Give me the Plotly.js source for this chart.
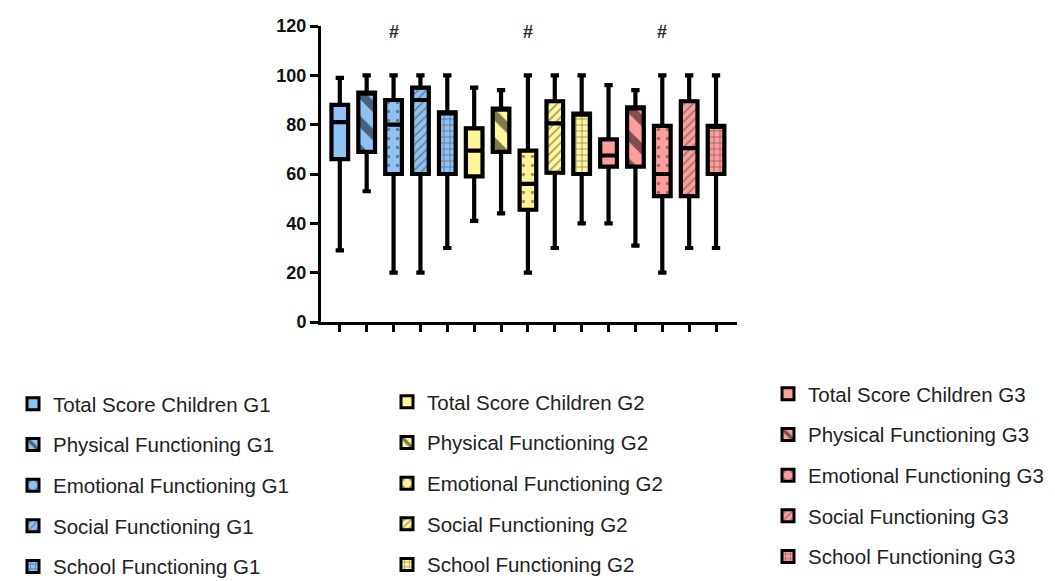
<!DOCTYPE html>
<html>
<head>
<meta charset="utf-8">
<script src="https://cdn.plot.ly/plotly-3.0.1.min.js"></script>
<style>html,body{margin:0;padding:0;background:#fff;}#chart{width:1055px;height:581px;}</style>
</head>
<body>
<div id="chart"></div>
<script>
// ---- data ----
const categories = [
  'Total Score Children G1','Physical Functioning G1','Emotional Functioning G1','Social Functioning G1','School Functioning G1',
  'Total Score Children G2','Physical Functioning G2','Emotional Functioning G2','Social Functioning G2','School Functioning G2',
  'Total Score Children G3','Physical Functioning G3','Emotional Functioning G3','Social Functioning G3','School Functioning G3'
];
const lowerWhisker = [29, 53, 20, 20, 30, 41, 44, 20, 30, 40, 40, 31, 20, 30, 30];
const q1Values     = [66, 69, 60, 60, 60, 59, 69, 45.5, 60.5, 60, 63, 63, 51, 51, 60];
const medianValues = [81, 93, 80, 90, 85, 69.5, 86.5, 56, 80.5, 84.5, 67.5, 87, 60, 70.5, 79.5];
const q3Values     = [88, 93, 90, 95, 85, 78.5, 86.5, 69.5, 89.5, 84.5, 74, 87, 79.5, 89.5, 79.5];
const upperWhisker = [99, 100, 100, 100, 100, 95, 94, 100, 100, 100, 96, 94, 100, 100, 100];
const significantIdx = [2, 7, 12];
const significantLabel = '#';
const yTicks = [0, 20, 40, 60, 80, 100, 120];

// ---- styles ----
const groupColors = ['#8fc1f5', '#fff59b', '#ff9d9d'];
const patterns = [
  {shape: '', size: 8, solidity: 0.3, fgcolor: '#000'},
  {shape: '\\', size: 20, solidity: 0.42, fgcolor: '#000'},
  {shape: '.', size: 9, solidity: 0.12, fgcolor: '#333'},
  {shape: '/', size: 6, solidity: 0.28, fgcolor: '#444'},
  {shape: '+', size: 6, solidity: 0.28, fgcolor: '#333'}
];
const legendNames = ['legend', 'legend2', 'legend3'];

const traces = [];
categories.forEach((name, i) => {
  const g = Math.floor(i / 5), k = i % 5;
  traces.push({
    type: 'bar', x: [i], y: [q3Values[i] - q1Values[i]], base: [q1Values[i]], width: 0.62,
    name: name, legend: legendNames[g], legendgroup: 'g' + i,
    marker: {color: groupColors[g], line: {color: '#000', width: 3},
             pattern: Object.assign({bgcolor: groupColors[g], fillmode: 'overlay'}, patterns[k])},
    hoverinfo: 'name'
  });
});
categories.forEach((name, i) => {
  traces.push({
    type: 'box', x: [i], q1: [q1Values[i]], median: [medianValues[i]], q3: [q3Values[i]],
    lowerfence: [lowerWhisker[i]], upperfence: [upperWhisker[i]], width: 0.62, whiskerwidth: 0.5,
    fillcolor: 'rgba(0,0,0,0)', line: {color: '#000', width: 4.2}, showlegend: false,
    name: name, hoverinfo: 'skip'
  });
});

const legendBase = {
  xref: 'container', yref: 'container', yanchor: 'top', xanchor: 'left',
  font: {family: 'Liberation Sans, Arial, sans-serif', size: 20.5, color: '#222'},
  traceorder: 'grouped', tracegroupgap: 11, bgcolor: 'rgba(0,0,0,0)', itemclick: false
};

const layout = {
  width: 1055, height: 581,
  margin: {l: 321, r: 318, t: 26, b: 259, autoexpand: false},
  paper_bgcolor: '#fff', plot_bgcolor: '#fff',
  barmode: 'overlay', boxmode: 'overlay',
  font: {family: 'Liberation Sans, Arial, sans-serif', color: '#000'},
  xaxis: {range: [-0.7, 14.78], tickvals: categories.map((c, i) => i), ticktext: categories.map(() => ''),
          ticks: 'outside', ticklen: 7, tickwidth: 3, tickcolor: '#000',
          showline: true, linewidth: 3, linecolor: '#000', showgrid: false, zeroline: false},
  yaxis: {range: [0, 120], tickvals: yTicks, ticks: 'outside', ticklen: 8, tickwidth: 3, tickcolor: '#000',
          showline: true, linewidth: 3, linecolor: '#000', showgrid: false, zeroline: false,
          tickfont: {size: 18, weight: 'bold', color: '#111'}},
  legend: Object.assign({}, legendBase, {x: 13 / 1055, y: 1 - 384 / 581}),
  legend2: Object.assign({}, legendBase, {x: 387 / 1055, y: 1 - 382 / 581}),
  legend3: Object.assign({}, legendBase, {x: 768 / 1055, y: 1 - 374 / 581}),
  annotations: significantIdx.map(i => ({x: i, y: 117.5, xref: 'x', yref: 'y', text: significantLabel,
    showarrow: false, font: {size: 18, color: '#2a2a2a', weight: 'bold'}})),
  showlegend: true
};

Plotly.newPlot('chart', traces, layout, {displayModeBar: false, staticPlot: true});
</script>
</body>
</html>
